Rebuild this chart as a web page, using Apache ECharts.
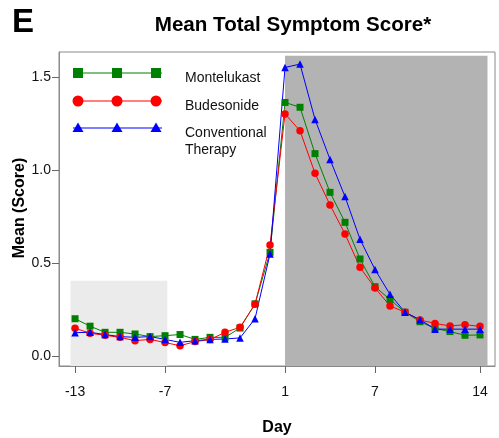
<!DOCTYPE html>
<html>
<head>
<meta charset="utf-8">
<script src="https://cdn.jsdelivr.net/npm/echarts@6/dist/echarts.min.js"></script>
<style>html,body{margin:0;padding:0;background:#fff;}#c{width:499px;height:438px;}</style>
</head>
<body>
<div id="c"></div>
<script>
const days = [-13,-12,-11,-10,-9,-8,-7,-6,-5,-4,-3,-2,-1,0,1,2,3,4,5,6,7,8,9,10,11,12,13,14];
const montelukast = [0.200,0.160,0.127,0.127,0.118,0.104,0.109,0.115,0.089,0.100,0.100,0.150,0.280,0.557,1.362,1.336,1.087,0.879,0.718,0.521,0.372,0.303,0.235,0.184,0.148,0.131,0.111,0.113];
const budesonide = [0.149,0.122,0.111,0.100,0.082,0.089,0.072,0.055,0.077,0.088,0.127,0.154,0.278,0.596,1.300,1.210,0.981,0.811,0.655,0.476,0.365,0.269,0.235,0.193,0.175,0.161,0.168,0.159];
const conventional = [0.125,0.127,0.115,0.104,0.100,0.104,0.089,0.073,0.082,0.089,0.091,0.097,0.200,0.548,1.550,1.568,1.271,1.056,0.856,0.627,0.464,0.331,0.235,0.195,0.144,0.144,0.144,0.144];
const xTicks = [-13,-7,1,7,14];
const yTicks = [0,0.5,1.0,1.5];
const baselineBand = [-13.3,-6.85,0.404];   // x from, x to, y top
const treatmentBand = [1.0,14.5,1.613];

const Y_MIN = -0.054, Y_MAX = 1.633, X_MIN = -14.07, X_MAX = 15;
const pair = arr => days.map((d,i)=>[d,arr[i]]);
const font = 'Liberation Sans, Arial, sans-serif';

const chart = echarts.init(document.getElementById('c'), null, {renderer:'canvas'});

function lineSeries(name, arr, color, symbol, size){
  return {name, type:'line', data:pair(arr), symbol, symbolSize:size, showSymbol:true,
    lineStyle:{color, width:1}, itemStyle:{color}, z:3, animation:false};
}

const legendItems = [
  {y:73, color:'#008000', sym:'square', label:'Montelukast'},
  {y:101, color:'#ff0000', sym:'circle', label:'Budesonide'},
  {y:128, color:'#0000ff', sym:'triangle', label:'Conventional\nTherapy'}
];
const graphics = [];
legendItems.forEach(it=>{
  graphics.push({type:'line', shape:{x1:73,y1:it.y,x2:162,y2:it.y}, style:{stroke:it.color, lineWidth:1.2}, z:10});
  [78,117,156].forEach(cx=>{
    if(it.sym==='square') graphics.push({type:'rect', shape:{x:cx-5,y:it.y-5,width:10,height:10}, style:{fill:it.color}, z:11});
    else if(it.sym==='circle') graphics.push({type:'circle', shape:{cx:cx,cy:it.y,r:5.5}, style:{fill:it.color}, z:11});
    else graphics.push({type:'polygon', shape:{points:[[cx,it.y-5.5],[cx+5.5,it.y+4],[cx-5.5,it.y+4]]}, style:{fill:it.color}, z:11});
  });
  graphics.push({type:'text', left:185, top:it.y-3, style:{text:it.label, font:'14px '+font, fill:'#111', lineHeight:17}, z:11});
});
graphics.push({type:'text', x:20, y:208, rotation:Math.PI/2,
  style:{text:'Mean (Score)', font:'bold 16px '+font, fill:'#000', align:'center', verticalAlign:'middle'}, z:11});

chart.setOption({
  animation:false,
  backgroundColor:'#fff',
  title:[
    {text:'E', left:7, top:1, textStyle:{fontSize:33, fontWeight:'bold', color:'#000', fontFamily:font}},
    {text:'Mean Total Symptom Score*', left:288, top:10, textAlign:'center', textStyle:{fontSize:20.6, fontWeight:'bold', color:'#000', fontFamily:font}}
  ],
  grid:{left:59, top:52, right:4, bottom:72, show:true, borderColor:'#8a8a8a', borderWidth:1, backgroundColor:'transparent', outerBoundsMode:'none', containLabel:false},
  xAxis:{type:'value', min:X_MIN, max:X_MAX, name:'Day', nameLocation:'middle', nameGap:54, nameMoveOverlap:false,
    nameTextStyle:{fontSize:16, fontWeight:'bold', color:'#000', fontFamily:font},
    axisLine:{show:true, onZero:false, lineStyle:{color:'#8a8a8a', width:1}},
    axisTick:{show:true, length:7, lineStyle:{color:'#666'}, customValues:xTicks},
    axisLabel:{customValues:xTicks, fontSize:14, color:'#111', margin:19, fontFamily:font},
    splitLine:{show:false}},
  yAxis:{type:'value', min:Y_MIN, max:Y_MAX,
    axisLine:{show:true, onZero:false, lineStyle:{color:'#8a8a8a', width:1}},
    axisTick:{show:true, length:7, lineStyle:{color:'#666'}, customValues:yTicks},
    axisLabel:{customValues:yTicks, fontSize:14, color:'#111', margin:8, fontFamily:font, formatter:v=>v.toFixed(1)},
    splitLine:{show:false}},
  series:[
    {type:'line', data:[], z:1, silent:true, markArea:{silent:true, data:[
      [{xAxis:baselineBand[0], yAxis:Y_MIN, itemStyle:{color:'#ebebeb'}},{xAxis:baselineBand[1], yAxis:baselineBand[2]}],
      [{xAxis:treatmentBand[0], yAxis:Y_MIN, itemStyle:{color:'#b3b3b3'}},{xAxis:treatmentBand[1], yAxis:treatmentBand[2]}]
    ]}},
    lineSeries('Montelukast', montelukast, '#008000', 'rect', 7),
    lineSeries('Budesonide', budesonide, '#ff0000', 'circle', 7.5),
    lineSeries('Conventional Therapy', conventional, '#0000ff', 'triangle', 7.5)
  ],
  graphic:graphics
});
</script>
</body>
</html>
